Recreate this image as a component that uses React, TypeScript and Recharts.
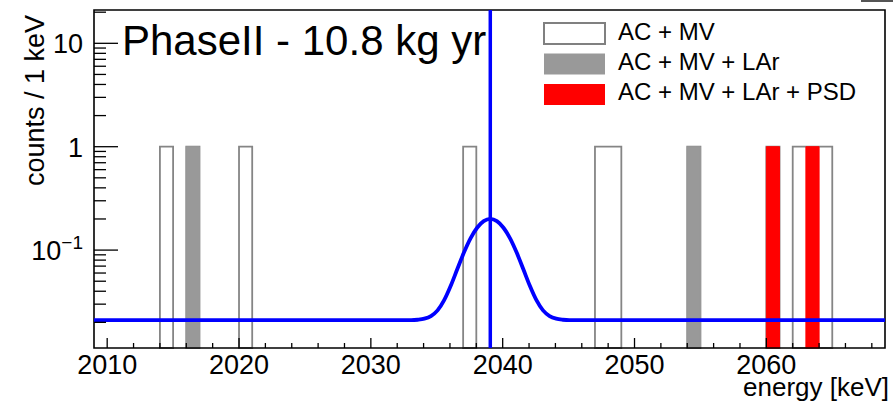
import React from "react";
import { ComposedChart, Line, XAxis, YAxis, ReferenceArea, ReferenceLine } from "recharts";

// histogram bins with one event each (lower bin edge, 1 keV bins)
const acMvBins = [2014, 2016, 2020, 2037, 2047, 2048, 2054, 2060, 2062, 2063, 2064];
const larBins = [2016, 2054];
const psdBins = [2060, 2063];
const binCount = 1;
const BIN_WIDTH = 1;

// background + signal shape
const curveEnergy = [
  2009, 2033.06, 2033.56, 2034.06, 2034.56, 2035.06, 2035.56, 2036.06, 2036.56, 2037.06,
  2037.56, 2038.06, 2038.56, 2039.06, 2039.56, 2040.06, 2040.56, 2041.06, 2041.56, 2042.06,
  2042.56, 2043.06, 2043.56, 2044.06, 2044.56, 2045.06, 2069
];
const curveCounts = [
  0.021, 0.021, 0.0212, 0.0217, 0.023, 0.0261, 0.0328, 0.0452, 0.0656, 0.0946,
  0.1297, 0.1644, 0.1903, 0.2, 0.1903, 0.1644, 0.1297, 0.0946, 0.0656, 0.0452,
  0.0328, 0.0261, 0.023, 0.0217, 0.0212, 0.021, 0.021
];
const qbb = 2039.06;

const xTicks = [
  2010, 2012, 2014, 2016, 2018, 2020, 2022, 2024, 2026, 2028, 2030, 2032, 2034, 2036, 2038,
  2040, 2042, 2044, 2046, 2048, 2050, 2052, 2054, 2056, 2058, 2060, 2062, 2064, 2066, 2068
];
const xLabels = [2010, 2020, 2030, 2040, 2050, 2060];
const yTicks = [
  0.02, 0.03, 0.04, 0.05, 0.06, 0.07, 0.08, 0.09, 0.1, 0.2, 0.3, 0.4, 0.5, 0.6, 0.7, 0.8, 0.9,
  1, 2, 3, 4, 5, 6, 7, 8, 9, 10, 20
];
const yLabels = [0.1, 1, 10];

const X_MIN = 2009;
const X_MAX = 2069;
const Y_MIN = 0.0113;
const Y_MAX = 21;

const FONT = "'Liberation Sans', Arial, Helvetica, sans-serif";

const curveData = curveEnergy.map((e, i) => ({ e, c: curveCounts[i] }));

function toRuns(bins: number[]) {
  const runs: { start: number; end: number }[] = [];
  bins.forEach((b) => {
    const last = runs[runs.length - 1];
    if (last && last.end === b) last.end = b + BIN_WIDTH;
    else runs.push({ start: b, end: b + BIN_WIDTH });
  });
  return runs;
}

const XTick = (props: any) => {
  const { x, y, payload } = props;
  const v = payload.value;
  const major = xLabels.includes(v);
  return (
    <g>
      <line x1={x} x2={x} y1={y} y2={y - (major ? 10 : 5)} stroke="#000" strokeWidth={1.3} />
      {major && (
        <text x={x} y={y + 26} textAnchor="middle" fontSize={27} fontFamily={FONT} fill="#000">
          {v}
        </text>
      )}
    </g>
  );
};

const YTick = (props: any) => {
  const { x, y, payload } = props;
  const v = payload.value;
  const major = yLabels.includes(v);
  return (
    <g>
      <line x1={x} x2={x + (major ? 24 : 12)} y1={y} y2={y} stroke="#000" strokeWidth={1.3} />
      {major && (
        <text x={x - 11} y={y + 10} textAnchor="end" fontSize={27} fontFamily={FONT} fill="#000">
          {v < 1 ? (
            <>
              <tspan>10</tspan>
              <tspan dy={-11} fontSize={19}>−1</tspan>
            </>
          ) : (
            v
          )}
        </text>
      )}
    </g>
  );
};

const legendItems = [
  { label: "AC + MV", fill: "#fff", stroke: "#808080" },
  { label: "AC + MV + LAr", fill: "#999999", stroke: "#999999" },
  { label: "AC + MV + LAr + PSD", fill: "#ff0000", stroke: "#ff0000" }
];

export default function App() {
  return (
    <div style={{ position: "absolute", left: 0, top: 0, width: 893, height: 402, background: "#fff" }}>
      <ComposedChart
        width={893}
        height={402}
        data={curveData}
        margin={{ top: 10, right: 8, bottom: 0, left: 0 }}
      >
        <XAxis
          dataKey="e"
          type="number"
          domain={[X_MIN, X_MAX]}
          allowDataOverflow
          ticks={xTicks}
          interval={0}
          tick={<XTick />}
          tickLine={false}
          axisLine={false}
          tickSize={0}
          tickMargin={0}
          height={54}
          label={{
            content: () => (
              <text x={889} y={396} textAnchor="end" fontSize={26} fontFamily={FONT} fill="#000">
                energy [keV]
              </text>
            )
          }}
        />
        <YAxis
          type="number"
          scale="log"
          domain={[Y_MIN, Y_MAX]}
          allowDataOverflow
          ticks={yTicks}
          interval={0}
          tick={<YTick />}
          tickLine={false}
          axisLine={false}
          tickSize={0}
          tickMargin={0}
          width={94}
          label={{
            content: () => (
              <text
                transform="translate(44,15) rotate(-90)"
                textAnchor="end"
                fontSize={27}
                fontFamily={FONT}
                fill="#000"
              >
                counts / 1 keV
              </text>
            )
          }}
        />

        {toRuns(acMvBins).map((r) => (
          <ReferenceArea
            key={"o" + r.start}
            x1={r.start}
            x2={r.end}
            y1={Y_MIN}
            y2={binCount}
            fill="none"
            stroke="#858585"
            strokeWidth={1.8}
          />
        ))}
        {toRuns(larBins).map((r) => (
          <ReferenceArea
            key={"g" + r.start}
            x1={r.start}
            x2={r.end}
            y1={Y_MIN}
            y2={binCount}
            fill="#999999"
            fillOpacity={1}
            stroke="#999999"
            strokeWidth={1}
          />
        ))}
        {toRuns(psdBins).map((r) => (
          <ReferenceArea
            key={"r" + r.start}
            x1={r.start}
            x2={r.end}
            y1={Y_MIN}
            y2={binCount}
            fill="#ff0000"
            fillOpacity={1}
            stroke="#ff0000"
            strokeWidth={1}
          />
        ))}

        <Line
          type="monotone"
          dataKey="c"
          stroke="#0000ff"
          strokeWidth={3.8}
          dot={false}
          activeDot={false}
          isAnimationActive={false}
        />
        <ReferenceLine x={qbb} stroke="#0000ff" strokeWidth={3.5} />

        <ReferenceArea
          x1={X_MIN}
          x2={X_MAX}
          y1={Y_MIN}
          y2={Y_MAX}
          fill="none"
          stroke="#000"
          strokeWidth={1.6}
        />
      </ComposedChart>

      <svg
        width={893}
        height={402}
        style={{ position: "absolute", left: 0, top: 0, pointerEvents: "none" }}
      >
        <text x={122} y={55} fontSize={42} fontFamily={FONT} fill="#000">
          PhaseII - 10.8 kg yr
        </text>
        {legendItems.map((it, i) => (
          <g key={it.label}>
            <rect
              x={544}
              y={23 + i * 30.5}
              width={61}
              height={21}
              fill={it.fill}
              stroke={it.stroke}
              strokeWidth={it.fill === "#fff" ? 2 : 0}
            />
            <text x={618} y={40 + i * 30} fontSize={24} fontFamily={FONT} fill="#000">
              {it.label}
            </text>
          </g>
        ))}
        <rect x={861} y={0} width={32} height={2} fill="#555" />
      </svg>
    </div>
  );
}
